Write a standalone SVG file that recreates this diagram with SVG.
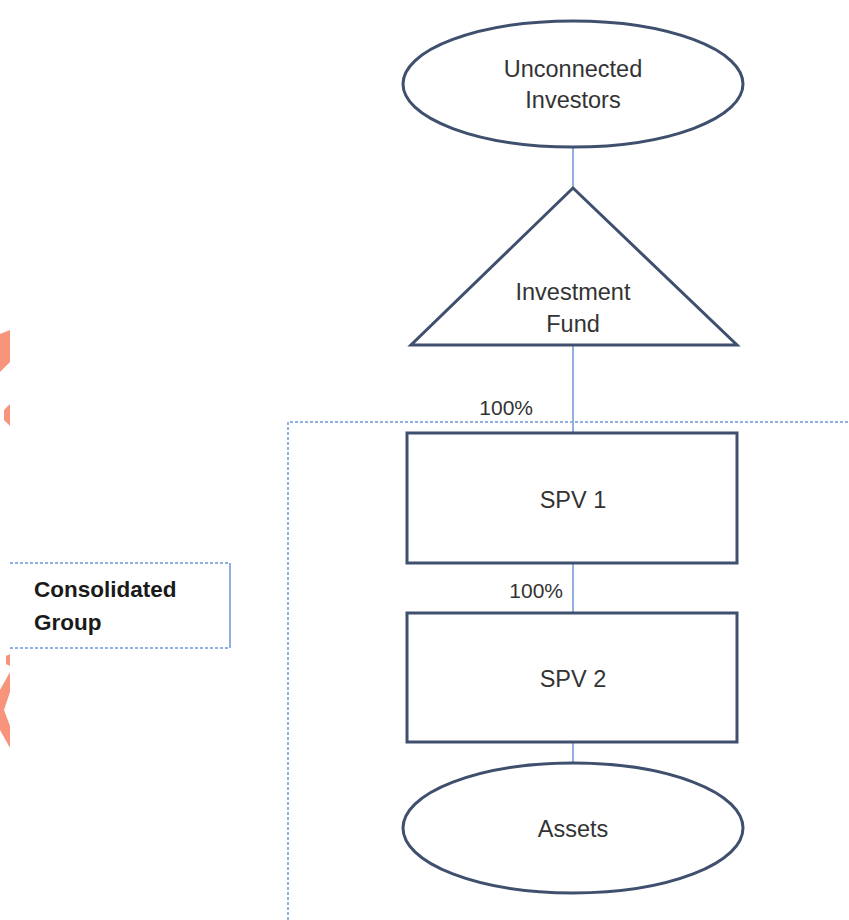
<svg xmlns="http://www.w3.org/2000/svg" width="849" height="920" viewBox="0 0 849 920">
<style>
.node{fill:#ffffff;stroke:#3f4f6e;stroke-width:3}
.conn{stroke:#8fb0e0;stroke-width:2;fill:none}
.dot{stroke:#8fb0e0;stroke-width:2;stroke-dasharray:3,2;fill:none}
.t{font-family:"Liberation Sans",Arial,sans-serif;font-size:23.5px;fill:#333333;text-anchor:middle}
.lbl{font-family:"Liberation Sans",Arial,sans-serif;font-size:21px;fill:#333333}
.b{font-family:"Liberation Sans",Arial,sans-serif;font-size:22.5px;font-weight:bold;fill:#1a1a1a}
.wm{fill:#f7876e;opacity:0.9}
</style>
<rect width="849" height="920" fill="#ffffff"/>
<g id="watermark">
<path class="wm" d="M0 334 L10 330 L10 362 L0 372 Z"/>
<path class="wm" d="M4 410 L10 404 L10 426 L4 420 Z"/>
<path class="wm" d="M6 656 L10 654 L10 666 L6 664 Z"/>
<path class="wm" d="M10 672 L10 692 L4 710 L10 726 L10 748 L0 730 L0 690 Z"/>
</g>
<g id="consolidated-boundary">
<path class="dot" d="M288 920 L288 422 L849 422"/>
</g>
<g id="consolidated-group">
<path class="dot" d="M10 563 L230 563"/>
<path class="dot" d="M10 648 L230 648"/>
<path d="M230 563 L230 648" stroke="#8fb0e0" stroke-width="2" fill="none"/>
<text class="b" x="34" y="597">Consolidated</text>
<text class="b" x="34" y="630">Group</text>
</g>
<g id="connectors">
<line class="conn" x1="573" y1="148" x2="573" y2="188"/>
<line class="conn" x1="573" y1="345" x2="573" y2="433"/>
<line class="conn" x1="573" y1="563" x2="573" y2="613"/>
<line class="conn" x1="573" y1="742" x2="573" y2="763"/>
<text class="lbl" x="533" y="415" text-anchor="end">100%</text>
<text class="lbl" x="563" y="598" text-anchor="end">100%</text>
</g>
<g id="unconnected-investors">
<ellipse class="node" cx="573" cy="84" rx="170" ry="63"/>
<text class="t" x="573" y="77">Unconnected</text>
<text class="t" x="573" y="108">Investors</text>
</g>
<g id="investment-fund">
<polygon class="node" points="573,188 737,345 411,345" stroke-linejoin="miter"/>
<text class="t" x="573" y="300">Investment</text>
<text class="t" x="573" y="332">Fund</text>
</g>
<g id="spv1">
<rect class="node" x="407" y="433" width="330" height="130"/>
<text class="t" x="573" y="508">SPV 1</text>
</g>
<g id="spv2">
<rect class="node" x="407" y="613" width="330" height="129"/>
<text class="t" x="573" y="687">SPV 2</text>
</g>
<g id="assets">
<ellipse class="node" cx="573" cy="828" rx="170" ry="65"/>
<text class="t" x="573" y="837">Assets</text>
</g>
</svg>
